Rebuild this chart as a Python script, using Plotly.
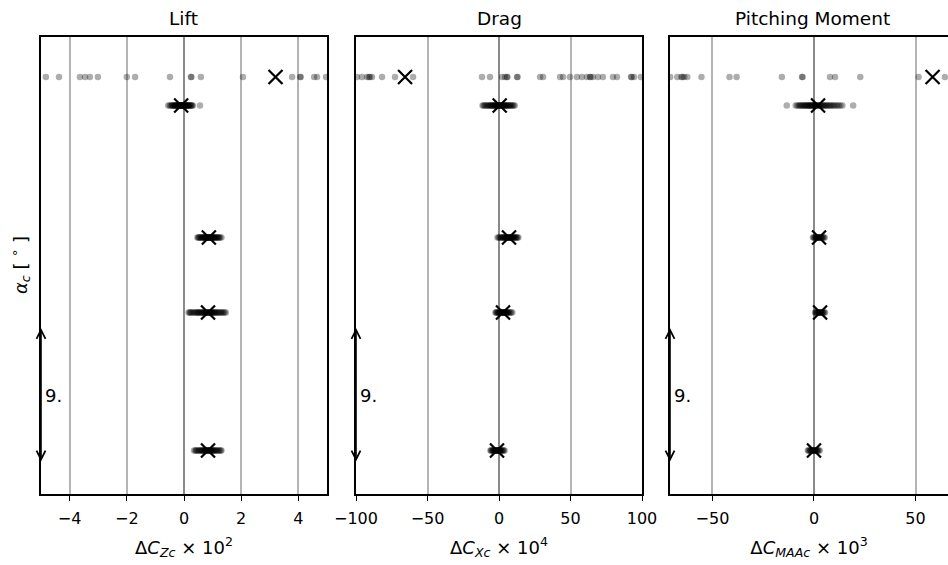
import plotly.graph_objects as go

# y-levels (angle of attack, degrees) of the five rows, top to bottom
alpha_rows = [27.8, 25.9, 17.1, 12.1, 2.9]

# ---- Lift (ΔC_Zc x 1e2) ----
lift_row1 = [-4.83, -4.37, -3.64, -3.46, -3.29, -3.01, -2.0, -1.71, -0.49, 0.24, 0.26, 0.59,
             2.06, 3.78, 4.06, 4.08, 4.55, 4.65, 4.97]
lift_row2 = [-0.55, -0.5, -0.46, -0.42, -0.4, -0.38, -0.35, -0.33, -0.31, -0.3, -0.28, -0.26,
             -0.24, -0.22, -0.21, -0.2, -0.18, -0.17, -0.15, -0.14, -0.13, -0.12, -0.11, -0.1,
             -0.09, -0.07, -0.06, -0.05, -0.03, -0.02, -0.01, 0.0, 0.01, 0.02, 0.04, 0.05, 0.07,
             0.08, 0.09, 0.1, 0.12, 0.13, 0.15, 0.17, 0.19, 0.21, 0.23, 0.26, 0.28, 0.31, 0.56]
lift_row3 = [0.47, 0.5, 0.52, 0.55, 0.58, 0.6, 0.63, 0.65, 0.67, 0.69, 0.7, 0.72, 0.74, 0.75,
             0.77, 0.78, 0.8, 0.81, 0.83, 0.84, 0.85, 0.86, 0.88, 0.89, 0.9, 0.92, 0.93, 0.95,
             0.96, 0.98, 0.99, 1.01, 1.02, 1.04, 1.06, 1.08, 1.1, 1.12, 1.15, 1.18, 1.2, 1.23,
             1.26, 1.31]
lift_row4 = [0.16, 0.2, 0.22, 0.26, 0.3, 0.34, 0.38, 0.42, 0.45, 0.48, 0.5, 0.53, 0.56, 0.59,
             0.62, 0.64, 0.67, 0.7, 0.72, 0.74, 0.76, 0.78, 0.8, 0.82, 0.84, 0.86, 0.88, 0.9,
             0.92, 0.94, 0.96, 0.98, 1.0, 1.03, 1.05, 1.08, 1.1, 1.13, 1.16, 1.2, 1.23, 1.27,
             1.3, 1.34, 1.38, 1.42, 1.46]
lift_row5 = [0.35, 0.4, 0.42, 0.46, 0.5, 0.53, 0.56, 0.59, 0.62, 0.64, 0.67, 0.69, 0.71, 0.73,
             0.75, 0.77, 0.79, 0.8, 0.82, 0.84, 0.85, 0.87, 0.88, 0.9, 0.92, 0.94, 0.96, 0.98,
             1.0, 1.03, 1.05, 1.08, 1.1, 1.14, 1.17, 1.21, 1.24, 1.28, 1.31]
lift_mean = [3.2, -0.1, 0.87, 0.84, 0.84]

# ---- Drag (ΔC_Xc x 1e4) ----
drag_row1 = [-99.3, -95.8, -92.3, -91.0, -90.2, -88.8, -81.8, -72.7, -60.1, -11.9, -6.3, 2.1,
             4.2, 5.6, 5.9, 12.6, 13.0, 28.7, 30.8, 42.7, 44.8, 49.7, 54.5, 58.0, 61.5, 63.6,
             64.0, 65.7, 69.2, 72.7, 79.7, 82.5, 92.3, 92.8, 94.4, 99.2]
drag_row2 = [-11.5, -10.8, -10, -9.2, -8.5, -7.8, -7, -6.5, -6, -5.5, -5, -4.5, -4, -3.6, -3.2,
             -2.8, -2.5, -2.1, -1.8, -1.4, -1, -0.7, -0.4, 0, 0.3, 0.6, 1, 1.3, 1.7, 2.1, 2.5,
             2.9, 3.3, 3.7, 4.2, 4.6, 5, 5.5, 6, 6.5, 7, 7.6, 8.2, 8.8, 9.5, 10.2, 11]
drag_row3 = [-1, -0.2, 0.5, 1.2, 1.8, 2.3, 2.8, 3.2, 3.6, 4.0, 4.4, 4.8, 5.1, 5.5, 5.8, 6.1,
             6.4, 6.7, 7, 7.3, 7.6, 7.9, 8.2, 8.6, 8.9, 9.3, 9.6, 10, 10.4, 10.8, 11.3, 11.8,
             12.3, 12.9, 13.5]
drag_row4 = [-2.5, -2, -1.5, -1, -0.6, -0.2, 0.2, 0.6, 0.9, 1.2, 1.5, 1.8, 2.1, 2.4, 2.6, 2.9,
             3.1, 3.4, 3.6, 3.9, 4.2, 4.5, 4.9, 5.3, 5.7, 6.1, 6.6, 7.1, 7.7, 8.5, 9.3]
drag_row5 = [-6, -5.5, -5, -4.5, -4.1, -3.7, -3.3, -2.9, -2.6, -2.3, -2, -1.7, -1.5, -1.2, -1,
             -0.7, -0.4, -0.1, 0.2, 0.5, 0.9, 1.3, 1.7, 2.2, 2.7, 3.3, 3.9]
drag_mean = [-65.7, 0.5, 7.0, 2.8, -1.4]

# ---- Pitching moment (ΔC_MAAc x 1e3) ----
pitch_row1 = [-70.8, -67.3, -65.3, -64.8, -63.9, -62.4, -55.4, -41.6, -38.1, -15.8, -5.9, -5.6,
              7.9, 10.4, 22.8, 51.5, 64.5]
pitch_row2 = [-13.4, -9, -8.2, -7.5, -7, -6.5, -6, -5.5, -5, -4.6, -4.2, -3.8, -3.4, -3, -2.6,
              -2.3, -2, -1.6, -1.3, -1, -0.6, -0.3, 0, 0.4, 0.7, 1.1, 1.4, 1.8, 2.2, 2.6, 3,
              3.4, 3.8, 4.3, 4.7, 5.2, 5.7, 6.2, 6.7, 7.3, 7.9, 8.5, 9.1, 9.8, 10.5, 11.3, 12.1,
              13, 14, 19.3]
pitch_row3 = [-0.5, -0.1, 0.3, 0.7, 1, 1.3, 1.6, 1.9, 2.1, 2.4, 2.6, 2.9, 3.1, 3.4, 3.7, 4,
              4.4, 4.8, 5.3]
pitch_row4 = [0.5, 0.9, 1.2, 1.5, 1.8, 2.1, 2.3, 2.6, 2.8, 3.1, 3.3, 3.6, 3.9, 4.2, 4.6, 5,
              5.4]
pitch_row5 = [-3, -2.6, -2.2, -1.8, -1.5, -1.2, -0.9, -0.6, -0.4, -0.1, 0.1, 0.4, 0.6, 0.9,
              1.2, 1.5, 1.9, 2.3, 2.8]
pitch_mean = [58.4, 2.0, 2.5, 3.0, 0.0]

panel_titles = ["Lift", "Drag", "Pitching Moment"]
axis_titles = ["Δ<i>C</i><sub><i>Zc</i></sub> × 10<sup>2</sup>",
               "Δ<i>C</i><sub><i>Xc</i></sub> × 10<sup>4</sup>",
               "Δ<i>C</i><sub><i>MAAc</i></sub> × 10<sup>3</sup>"]
tick_vals = [[-4, -2, 0, 2, 4], [-100, -50, 0, 50, 100], [-50, 0, 50]]
x_ranges = [[-5, 5], [-100, 100], [-70.9, 66.0]]
scale_len = 9.0
scale_start = 2.07

panels = [
    ([lift_row1, lift_row2, lift_row3, lift_row4, lift_row5], lift_mean),
    ([drag_row1, drag_row2, drag_row3, drag_row4, drag_row5], drag_mean),
    ([pitch_row1, pitch_row2, pitch_row3, pitch_row4, pitch_row5], pitch_mean),
]

W, H = 948, 565
x_domains = [[41 / W, 327 / W], [356 / W, 642 / W], [670 / W, 1.0]]
y_domain = [(H - 494) / H, (H - 37) / H]
y_range = [0, 30.47]

fig = go.Figure()
FONT = "DejaVu Sans"

for i, (rows, means) in enumerate(panels):
    xs, ys = [], []
    for a, row in zip(alpha_rows, rows):
        xs += row
        ys += [a] * len(row)
    sfx = "" if i == 0 else str(i + 1)
    fig.add_trace(go.Scatter(
        x=xs, y=ys, mode="markers", xaxis="x" + sfx, yaxis="y" + sfx,
        marker=dict(size=6.5, color="rgba(0,0,0,0.32)", line=dict(width=0)),
        showlegend=False, hoverinfo="skip"))
    fig.add_trace(go.Scatter(
        x=means, y=alpha_rows, mode="markers", xaxis="x" + sfx, yaxis="y" + sfx,
        marker=dict(symbol="x-thin", size=14, color="black",
                    line=dict(width=2.2, color="black")),
        showlegend=False, hoverinfo="skip"))

    fig.layout["xaxis" + sfx] = dict(
        domain=x_domains[i], anchor="y" + sfx, range=x_ranges[i], automargin=False,
        tickvals=tick_vals[i], ticks="outside", ticklen=5, tickwidth=1.2,
        tickcolor="black", showline=True, linecolor="black", linewidth=1.5,
        mirror=True, showgrid=True, gridcolor="#b4b4b4", gridwidth=1.5,
        zeroline=True, zerolinecolor="#8a8a8a", zerolinewidth=2,
        ticklabelstandoff=4,
        tickfont=dict(family=FONT, size=16, color="black"),
        title=dict(text=axis_titles[i], font=dict(family=FONT, size=18, color="black"),
                   standoff=14),
        fixedrange=True)
    fig.layout["yaxis" + sfx] = dict(
        domain=y_domain, anchor="x" + sfx, range=y_range, automargin=False,
        showticklabels=False, ticks="", showgrid=False, zeroline=False,
        showline=True, linecolor="black", linewidth=1.5,
        mirror=(i < 2), fixedrange=True)

    # scale arrow (9 degrees) on the left spine
    fig.add_annotation(
        x=x_ranges[i][0], y=scale_start + scale_len, ax=x_ranges[i][0], ay=scale_start,
        xref="x" + sfx, yref="y" + sfx, axref="x" + sfx, ayref="y" + sfx,
        text="", showarrow=True, arrowhead=5, startarrowhead=5, arrowside="end+start",
        arrowwidth=1.6, arrowsize=1.1, arrowcolor="black")
    fig.add_annotation(
        x=x_ranges[i][0], y=scale_start + scale_len / 2, xref="x" + sfx, yref="y" + sfx,
        text=f"{scale_len:g}.", showarrow=False, xanchor="left", yanchor="middle",
        xshift=2, font=dict(family=FONT, size=18, color="black"))

    # panel title
    cx = (x_domains[i][0] + (x_domains[i][0] + 286 / W)) / 2
    fig.add_annotation(
        x=cx, y=(H - 19) / H, xref="paper", yref="paper", text=panel_titles[i],
        showarrow=False, xanchor="center", yanchor="middle",
        font=dict(family=FONT, size=18.5, color="black"))

fig.add_annotation(
    x=20 / W, y=(H - 265) / H, xref="paper", yref="paper",
    text="<i>α</i><sub><i>c</i></sub> [ <sup>∘</sup> ]", textangle=-90,
    showarrow=False, xanchor="center", yanchor="middle",
    font=dict(family=FONT, size=18, color="black"))

fig.update_layout(
    width=W, height=H, margin=dict(l=0, r=0, t=0, b=0, autoexpand=False),
    paper_bgcolor="white", plot_bgcolor="white", showlegend=False)

fig.write_html("out.html", include_plotlyjs=True, config={"displayModeBar": False})
